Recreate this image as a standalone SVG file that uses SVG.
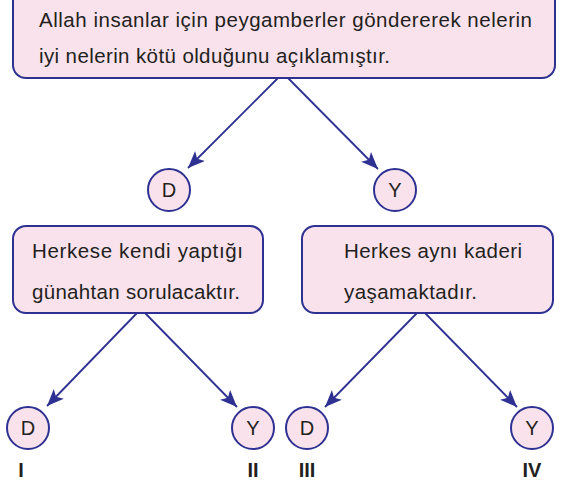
<svg xmlns="http://www.w3.org/2000/svg" width="565" height="482" viewBox="0 0 565 482">
<style>
.box{fill:#f9e2ec;stroke:#2e3192;stroke-width:2}
.circ{fill:#f9e2ec;stroke:#2e3192;stroke-width:2}
.t{font-family:"Liberation Sans",Arial,sans-serif;font-size:20.5px;fill:#231f20}
.c{font-family:"Liberation Sans",Arial,sans-serif;font-size:20px;fill:#231f20;text-anchor:middle}
.n{font-family:"Liberation Sans",Arial,sans-serif;font-size:20px;font-weight:bold;fill:#231f20;text-anchor:middle}
.ln{stroke:#2e3192;stroke-width:1.8;fill:none;marker-end:url(#ah)}
</style>
<defs>
<marker id="ah" markerUnits="userSpaceOnUse" markerWidth="20" markerHeight="16" refX="17" refY="7" orient="auto">
<path d="M0,0 L17,7 L0,14 L4,7 Z" fill="#2e3192"/>
</marker>
</defs>
<g id="connectors">
<line class="ln" x1="279" y1="77" x2="188" y2="168"/>
<line class="ln" x1="287" y1="77" x2="378" y2="169"/>
<line class="ln" x1="137" y1="313" x2="47" y2="406"/>
<line class="ln" x1="145" y1="313" x2="237" y2="407"/>
<line class="ln" x1="417" y1="313" x2="325" y2="407"/>
<line class="ln" x1="425" y1="313" x2="517" y2="407"/>
</g>
<g id="top">
<rect class="box" x="13" y="-15" width="542" height="93" rx="13"/>
<text class="t" x="39" y="27" textLength="493" lengthAdjust="spacing">Allah insanlar için peygamberler göndererek nelerin</text>
<text class="t" x="39" y="63" textLength="351" lengthAdjust="spacing">iyi nelerin kötü olduğunu açıklamıştır.</text>
</g>
<g id="d1"><circle class="circ" cx="169" cy="190" r="21"/><text class="c" x="169" y="197">D</text></g>
<g id="y1"><circle class="circ" cx="395" cy="190" r="21"/><text class="c" x="395" y="197">Y</text></g>
<g id="left">
<rect class="box" x="13" y="226" width="250" height="87" rx="13"/>
<text class="t" x="32" y="258" textLength="211" lengthAdjust="spacing">Herkese kendi yaptığı</text>
<text class="t" x="32" y="299" textLength="208" lengthAdjust="spacing">günahtan sorulacaktır.</text>
</g>
<g id="right">
<rect class="box" x="302" y="226" width="251" height="87" rx="13"/>
<text class="t" x="344" y="258" textLength="178" lengthAdjust="spacing">Herkes aynı kaderi</text>
<text class="t" x="344" y="299" textLength="133" lengthAdjust="spacing">yaşamaktadır.</text>
</g>
<g id="d2"><circle class="circ" cx="28" cy="428" r="21"/><text class="c" x="28" y="435">D</text></g>
<g id="y2"><circle class="circ" cx="253" cy="428" r="21"/><text class="c" x="253" y="435">Y</text></g>
<g id="d3"><circle class="circ" cx="307" cy="428" r="21"/><text class="c" x="307" y="435">D</text></g>
<g id="y3"><circle class="circ" cx="532" cy="428" r="21"/><text class="c" x="532" y="435">Y</text></g>
<g id="labels">
<text class="n" x="21" y="477">I</text>
<text class="n" x="253" y="477">II</text>
<text class="n" x="307" y="477">III</text>
<text class="n" x="532" y="477">IV</text>
</g>
</svg>
